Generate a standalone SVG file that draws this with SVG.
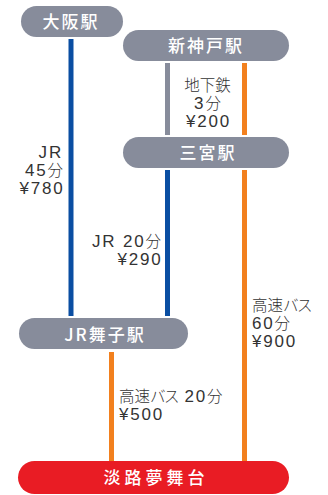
<svg xmlns="http://www.w3.org/2000/svg" width="328" height="495" viewBox="0 0 328 495">
<style>
.node{fill:#878c9b}
.dest{fill:#e91c24}
.nt{fill:#fff;font-family:"Noto Sans CJK JP","Liberation Sans",sans-serif;font-size:17px;font-weight:500;text-anchor:middle;letter-spacing:2px}
.lbl{fill:#333;font-family:"Liberation Sans","Noto Sans CJK JP",sans-serif;font-size:17px;letter-spacing:1.8px}
.j{font-family:"Noto Sans CJK JP",sans-serif;font-size:15.5px;font-weight:300;letter-spacing:0}
.k{letter-spacing:-1.5px}
.blue{stroke:#0a4ea2;stroke-width:5}
.orange{stroke:#f2801e;stroke-width:5}
.gray{stroke:#878c9b;stroke-width:5}
</style>
<rect width="328" height="495" fill="#fff"/>
<g id="connectors" fill="none">
<line class="blue" x1="71" y1="39" x2="71" y2="316"/>
<line class="gray" x1="167.5" y1="63" x2="167.5" y2="135"/>
<line class="orange" x1="244.5" y1="63" x2="244.5" y2="135"/>
<line class="blue" x1="167.5" y1="170" x2="167.5" y2="316"/>
<line class="orange" x1="244.5" y1="170" x2="244.5" y2="461"/>
<line class="orange" x1="111.5" y1="352" x2="111.5" y2="461"/>
</g>
<g id="labels" class="lbl">
<text x="207.5" y="91" text-anchor="middle"><tspan class="j">地下鉄</tspan></text>
<text x="207.5" y="109" text-anchor="middle">3<tspan class="j">分</tspan></text>
<text x="208.5" y="127" text-anchor="middle">¥200</text>
<text x="63" y="158" text-anchor="end">JR</text>
<text x="63" y="176" text-anchor="end">45<tspan class="j">分</tspan></text>
<text x="64.5" y="194" text-anchor="end">¥780</text>
<text x="161" y="247" text-anchor="end">JR 20<tspan class="j">分</tspan></text>
<text x="162.5" y="265" text-anchor="end">¥290</text>
<text x="252" y="311"><tspan class="j">高速<tspan class="k">バス</tspan></tspan></text>
<text x="252" y="329">60<tspan class="j">分</tspan></text>
<text x="252" y="347">¥900</text>
<text x="119" y="402"><tspan class="j">高速<tspan class="k">バス</tspan></tspan> 20<tspan class="j">分</tspan></text>
<text x="119" y="420">¥500</text>
</g>
<g id="osaka">
<rect class="node" x="21" y="6" width="102" height="31" rx="15.5"/>
<text class="nt" x="71" y="28">大阪駅</text>
</g>
<g id="shinkobe">
<rect class="node" x="123" y="30" width="166" height="31" rx="15.5"/>
<text class="nt" x="206" y="52">新神戸駅</text>
</g>
<g id="sannomiya">
<rect class="node" x="123" y="137" width="166" height="31" rx="15.5"/>
<text class="nt" x="208" y="159">三宮駅</text>
</g>
<g id="maiko">
<rect class="node" x="19" y="318" width="169" height="31" rx="15.5"/>
<text class="nt" x="105" y="341">JR舞子駅</text>
</g>
<g id="awaji">
<rect class="dest" x="18" y="461" width="271" height="33" rx="16.5"/>
<text class="nt" x="156" y="484" style="letter-spacing:4px">淡路夢舞台</text>
</g>
</svg>
